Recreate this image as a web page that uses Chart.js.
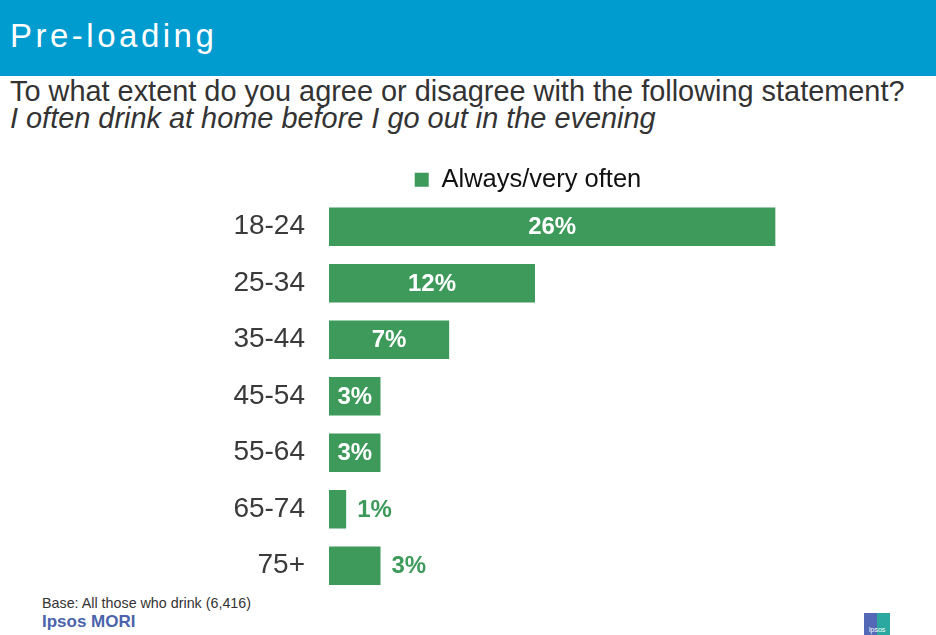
<!DOCTYPE html>
<html>
<head>
<meta charset="utf-8">
<title>Pre-loading</title>
<script src="https://cdn.jsdelivr.net/npm/chart.js@4/dist/chart.umd.min.js"></script>
<style>
    body {
        margin: 0;
        width: 936px;
        height: 635px;
        background: #fff;
        position: relative;
        overflow: hidden;
        font-family: "Liberation Sans", Arial, sans-serif;
    }
    .header {
        position: absolute;
        left: 0;
        top: 0;
        width: 936px;
        height: 76px;
        background: #009bcf;
    }
    .txt {
        position: absolute;
        white-space: nowrap;
        line-height: 1;
    }
    .title {
        left: 10px;
        top: 19px;
        font-size: 33px;
        letter-spacing: 3.5px;
        color: #fff;
    }
    .question {
        left: 10px;
        font-size: 28.9px;
        color: #333;
    }
    .base {
        left: 42px;
        top: 596px;
        font-size: 14.3px;
        color: #333;
    }
    .brand {
        left: 42px;
        top: 613px;
        font-size: 17px;
        font-weight: bold;
        color: #4b64ab;
    }
    .logo {
        position: absolute;
        left: 864px;
        top: 613px;
        width: 26px;
        height: 22px;
        background: linear-gradient(to right, #5468b8 0 50%, #2ba9a0 50% 100%);
        color: #fff;
        font-size: 7px;
        text-align: center;
        line-height: 34px;
        overflow: hidden;
    }
    #preloadChart {
        position: absolute;
        left: 0;
        top: 160px;
        display: block;
    }
</style>
</head>
<body>
<div class="header"></div>
<div class="txt title">Pre-loading</div>
<div class="txt question" style="top: 77px;">To what extent do you agree or disagree with the following statement?</div>
<div class="txt question" style="top: 104px; font-style: italic;">I often drink at home before I go out in the evening</div>

<canvas id="preloadChart" width="936" height="434"></canvas>

<div class="txt base">Base: All those who drink (6,416)</div>
<div class="txt brand">Ipsos MORI</div>
<div class="logo">Ipsos</div>

<script>
// Chart data
const ageGroups = ['18-24', '25-34', '35-44', '45-54', '55-64', '65-74', '75+'];
const alwaysVeryOften = [26, 12, 7, 3, 3, 1, 3];
const seriesName = 'Always/very often';
// these bars get their value written next to the bar instead of inside it
const outsideLabels = ['65-74', '75+'];

const GREEN = '#3d9a5a';

// Draws the percentage on (or after) each bar
const valueLabels = {
    id: 'valueLabels',
    afterDatasetsDraw(chart) {
        const ctx = chart.ctx;
        const meta = chart.getDatasetMeta(0);
        ctx.save();
        ctx.font = 'bold 24px "Liberation Sans", Arial, sans-serif';
        ctx.textBaseline = 'middle';
        meta.data.forEach((bar, i) => {
            const text = alwaysVeryOften[i] + '%';
            if (outsideLabels.includes(ageGroups[i])) {
                ctx.fillStyle = GREEN;
                ctx.textAlign = 'left';
                ctx.fillText(text, bar.x + 11, bar.y + 1);
            } else {
                ctx.fillStyle = '#fff';
                ctx.textAlign = 'center';
                ctx.fillText(text, (bar.x + bar.base) / 2, bar.y + 1);
            }
        });
        ctx.restore();
    }
};

// Nudge the legend a few px down without moving the bars
const legendNudge = {
    id: 'legendNudge',
    afterLayout(chart) {
        if (chart.legend) {
            chart.legend.top += 4;
            chart.legend.bottom += 4;
        }
    }
};

const ctx = document.getElementById('preloadChart').getContext('2d');

new Chart(ctx, {
    type: 'bar',
    data: {
        labels: ageGroups,
        datasets: [{
            label: seriesName,
            data: alwaysVeryOften,
            backgroundColor: GREEN,
            borderWidth: 0,
            barPercentage: 0.68,
            categoryPercentage: 1
        }]
    },
    options: {
        indexAxis: 'y',
        responsive: false,
        animation: false,
        layout: {
            padding: { left: 212, right: 92, top: 0, bottom: 0 }
        },
        scales: {
            x: {
                display: false,
                min: 0,
                max: 30
            },
            y: {
                grid: { display: false, drawTicks: false },
                border: { display: false },
                ticks: {
                    color: '#3a3a3a',
                    padding: 24,
                    font: { family: '"Liberation Sans", Arial, sans-serif', size: 28 }
                },
                afterFit(scale) {
                    // fixed axis width, and no extra room above/below for the labels
                    scale.width = 117;
                    scale.paddingTop = 0;
                    scale.paddingBottom = 0;
                }
            }
        },
        plugins: {
            legend: {
                position: 'top',
                labels: {
                    color: '#111',
                    boxWidth: 14,
                    boxHeight: 14,
                    padding: 3,
                    font: { family: '"Liberation Sans", Arial, sans-serif', size: 25.5 }
                }
            },
            tooltip: { enabled: false }
        }
    },
    plugins: [valueLabels, legendNudge]
});
</script>
</body>
</html>
